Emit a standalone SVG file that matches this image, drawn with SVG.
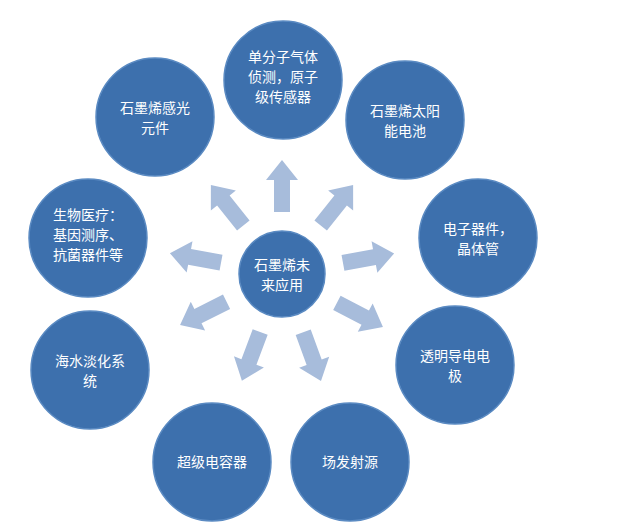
<svg xmlns="http://www.w3.org/2000/svg" width="629" height="528" viewBox="0 0 629 528">
<style>
.n{fill:#3d70ad;stroke:#5a8ac2;stroke-width:1.5}
.t{fill:#fff;font-family:"Noto Sans CJK SC",sans-serif;font-size:14px;text-anchor:middle}
.a{fill:#a7bcdb}
</style>
<defs><polygon id="ar" points="62,-8 94,-8 94,-16 114,0 94,16 94,8 62,8"/></defs>
<rect width="629" height="528" fill="#fff"/>
<g id="connectors" transform="translate(282,274)">
<use href="#ar" class="a" transform="rotate(-90)"/>
<use href="#ar" class="a" transform="rotate(-128.6)"/>
<use href="#ar" class="a" transform="rotate(-51.4)"/>
<use href="#ar" class="a" transform="rotate(-10.4)"/>
<use href="#ar" class="a" transform="rotate(-169.5)"/>
<use href="#ar" class="a" transform="rotate(153.4)"/>
<use href="#ar" class="a" transform="rotate(110.6)"/>
<use href="#ar" class="a" transform="rotate(70)"/>
<use href="#ar" class="a" transform="rotate(27.7)"/>
</g>
<g id="center"><circle class="n" cx="282" cy="274" r="43"/><text class="t" x="282" y="270">石墨烯未</text><text class="t" x="282" y="290">来应用</text></g>
<g id="n1"><circle class="n" cx="283" cy="80" r="59"/><text class="t" x="283" y="62">单分子气体</text><text class="t" x="283" y="82">侦测，原子</text><text class="t" x="283" y="102">级传感器</text></g>
<g id="n2"><circle class="n" cx="155" cy="117" r="59"/><text class="t" x="155" y="113">石墨烯感光</text><text class="t" x="155" y="133">元件</text></g>
<g id="n3"><circle class="n" cx="405" cy="120" r="59"/><text class="t" x="405" y="116">石墨烯太阳</text><text class="t" x="405" y="136">能电池</text></g>
<g id="n4"><circle class="n" cx="478" cy="238" r="59"/><text class="t" x="478" y="234">电子器件，</text><text class="t" x="478" y="254">晶体管</text></g>
<g id="n5"><circle class="n" cx="88" cy="238" r="59"/><text class="t" x="88" y="220">生物医疗：</text><text class="t" x="88" y="240">基因测序、</text><text class="t" x="88" y="260">抗菌器件等</text></g>
<g id="n6"><circle class="n" cx="90" cy="370" r="59"/><text class="t" x="90" y="366">海水淡化系</text><text class="t" x="90" y="386">统</text></g>
<g id="n7"><circle class="n" cx="212" cy="462" r="59"/><text class="t" x="212" y="467">超级电容器</text></g>
<g id="n8"><circle class="n" cx="350" cy="462" r="59"/><text class="t" x="350" y="467">场发射源</text></g>
<g id="n9"><circle class="n" cx="455" cy="365" r="59"/><text class="t" x="455" y="361">透明导电电</text><text class="t" x="455" y="381">极</text></g>
</svg>
